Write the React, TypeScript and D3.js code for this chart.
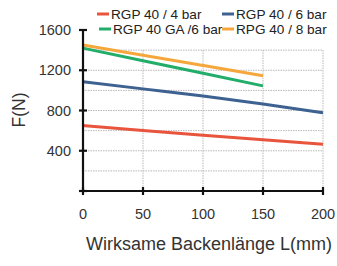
import { useEffect, useRef } from "react";
import * as d3 from "d3";

const lengths = [0, 50, 100, 150, 200];
const rgp4bar = [650, 602, 555, 510, 465];
const rgp6bar = [1085, 1015, 945, 865, 777];
const rgpGa6bar = [1420, 1295, 1170, 1045];
const rpg8bar = [1450, 1350, 1248, 1146];

const seriesNames = ["RGP 40 / 4 bar", "RGP 40 / 6 bar", "RGP 40 GA /6 bar", "RPG 40 / 8 bar"];
const seriesColors = ["#e8553c", "#3d6291", "#22ad6b", "#f6a73c"];
const yTicks = [0, 400, 800, 1200, 1600];
const gridY = [200, 400, 600, 800, 1000, 1200, 1400];

export default function App() {
  const ref = useRef<SVGSVGElement | null>(null);

  useEffect(() => {
    if (!ref.current) return;
    const width = 337;
    const height = 266;
    const svg = d3.select(ref.current);
    svg.selectAll("*").remove();
    svg.attr("width", width).attr("height", height);

    const font = "Liberation Sans, Arial, sans-serif";
    const x = d3.scaleLinear().domain([0, 200]).range([83, 323]);
    const y = d3.scaleLinear().domain([0, 1600]).range([191, 30]);

    // grid
    const grid = svg.append("g").attr("stroke", "#b8b8b8").attr("stroke-width", 1).attr("stroke-dasharray", "1.5,1");
    grid
      .selectAll("line.h")
      .data(gridY)
      .join("line")
      .attr("x1", x(0))
      .attr("x2", x(200))
      .attr("y1", (d) => y(d))
      .attr("y2", (d) => y(d));
    grid
      .selectAll("line.v")
      .data(lengths.slice(1))
      .join("line")
      .attr("x1", (d) => x(d))
      .attr("x2", (d) => x(d))
      .attr("y1", y(1400))
      .attr("y2", y(0));

    const series = [rgp4bar, rgp6bar, rgpGa6bar, rpg8bar];
    const line = d3
      .line<number>()
      .x((_, i) => x(lengths[i]))
      .y((d) => y(d))
      .curve(d3.curveMonotoneX);

    series.forEach((s, i) => {
      svg
        .append("path")
        .datum(s)
        .attr("fill", "none")
        .attr("stroke", seriesColors[i])
        .attr("stroke-width", 3)
        .attr("d", line);
    });

    // axes
    const axes = svg.append("g").attr("stroke", "#111").attr("stroke-width", 2.2);
    axes.append("line").attr("x1", x(0)).attr("x2", x(0)).attr("y1", y(1600)).attr("y2", y(0) + 1);
    axes.append("line").attr("x1", x(0) - 1).attr("x2", x(200) + 1).attr("y1", y(0)).attr("y2", y(0));
    axes
      .selectAll("line.yt")
      .data(yTicks)
      .join("line")
      .attr("x1", x(0) - 4)
      .attr("x2", x(0) + 4)
      .attr("y1", (d) => y(d))
      .attr("y2", (d) => y(d));
    axes
      .selectAll("line.xt")
      .data(lengths)
      .join("line")
      .attr("x1", (d) => x(d))
      .attr("x2", (d) => x(d))
      .attr("y1", y(0) - 4)
      .attr("y2", y(0) + 4);

    svg
      .append("g")
      .selectAll("text")
      .data(yTicks.slice(1))
      .join("text")
      .attr("x", 71)
      .attr("y", (d) => y(d) + 5)
      .attr("text-anchor", "end")
      .attr("font-family", font)
      .attr("font-size", 14.5)
      .attr("fill", "#333")
      .text((d) => d);

    svg
      .append("g")
      .selectAll("text")
      .data(lengths)
      .join("text")
      .attr("x", (d) => x(d))
      .attr("y", 218.5)
      .attr("text-anchor", "middle")
      .attr("font-family", font)
      .attr("font-size", 14.5)
      .attr("fill", "#333")
      .text((d) => d);

    svg
      .append("text")
      .attr("transform", "translate(25,110) rotate(-90)")
      .attr("text-anchor", "middle")
      .attr("font-family", font)
      .attr("font-size", 17.5)
      .attr("fill", "#333")
      .text("F(N)");

    svg
      .append("text")
      .attr("x", 209)
      .attr("y", 250)
      .attr("text-anchor", "middle")
      .attr("font-family", font)
      .attr("font-size", 18)
      .attr("fill", "#333")
      .text("Wirksame Backenlänge L(mm)");

    // legend
    const legendPos = [
      [97, 14],
      [222, 14],
      [99, 29],
      [222, 29],
    ];
    seriesNames.forEach((name, i) => {
      const [lx, ly] = legendPos[i];
      svg
        .append("line")
        .attr("x1", lx)
        .attr("x2", lx + 12)
        .attr("y1", ly)
        .attr("y2", ly)
        .attr("stroke", seriesColors[i])
        .attr("stroke-width", 3);
      svg
        .append("text")
        .attr("x", lx + 14)
        .attr("y", ly + 5)
        .attr("font-family", font)
        .attr("font-size", 13.6)
        .attr("fill", "#222")
        .text(name);
    });
  }, []);

  return <svg ref={ref} style={{ position: "absolute", left: 0, top: 0 }} />;
}
